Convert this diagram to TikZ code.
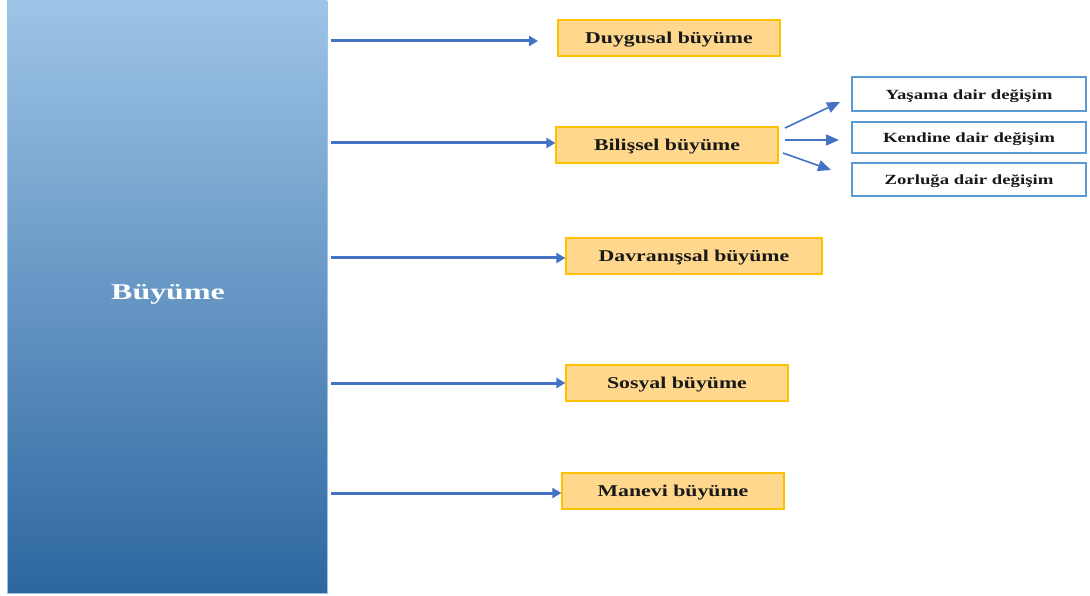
\documentclass[tikz,border=0pt]{standalone}
\usepackage{fontspec}
\setmainfont{Liberation Serif}
\usetikzlibrary{arrows.meta}
\definecolor{topblue}{RGB}{158,196,231}
\definecolor{botblue}{RGB}{45,103,160}
\definecolor{arrowblue}{RGB}{68,114,196}
\definecolor{boxfill}{RGB}{255,216,142}
\definecolor{boxline}{RGB}{255,192,0}
\definecolor{subline}{RGB}{91,155,213}
% labels are set in a horizontally widened face, drawn a little low
\newcommand{\widetext}[2]{\raisebox{-2pt}[\height][\depth]{\scalebox{#1}[1]{#2}}}
\tikzset{
  growth/.style={draw=boxline, line width=1.2pt, fill=boxfill, inner sep=0pt,
    font=\bfseries\fontsize{16.5}{19}\selectfont, text=black!90},
  change/.style={draw=subline, line width=1.2pt, fill=white, inner sep=0pt,
    minimum width=234pt, font=\bfseries\fontsize{14}{16}\selectfont, text=black!90},
  mainarrow/.style={draw=arrowblue, line width=3pt, -{Triangle[length=9pt,width=10pt]}},
  subarrow/.style={draw=arrowblue, line width=1.6pt, -{Triangle[length=13pt,width=11pt]}}
}
\begin{document}
\begin{tikzpicture}[x=1pt,y=-1pt]
\useasboundingbox (0,0) rectangle (1090,596);
% main column
\shade[top color=topblue, bottom color=botblue, draw=subline!60, line width=0.8pt]
  (7,1) rectangle (327,593);
\node[text=white, font=\bfseries\fontsize{22.5}{26}\selectfont] (main) at (168,292)
  {\widetext{1.42}{Büyüme}};
% growth boxes
\node[growth, minimum width=222pt, minimum height=36pt] (duy) at (669,38) {\widetext{1.32}{Duygusal büyüme}};
\node[growth, minimum width=222pt, minimum height=36pt] (bil) at (667,145) {\widetext{1.32}{Bilişsel büyüme}};
\node[growth, minimum width=256pt, minimum height=36pt] (dav) at (694,256) {\widetext{1.32}{Davranışsal büyüme}};
\node[growth, minimum width=222pt, minimum height=36pt] (sos) at (677,383) {\widetext{1.32}{Sosyal büyüme}};
\node[growth, minimum width=222pt, minimum height=36pt] (man) at (673,491) {\widetext{1.32}{Manevi büyüme}};
% arrow tails on the column edge
\coordinate (t1) at (331,41);
\coordinate (t2) at (331,143);
\coordinate (t3) at (331,258);
\coordinate (t4) at (331,383);
\coordinate (t5) at (331,493);
\draw[mainarrow] (t1) -- (538,41);
\draw[mainarrow] (t2) -- (bil.west |- t2);
\draw[mainarrow] (t3) -- (dav.west |- t3);
\draw[mainarrow] (t4) -- (sos.west |- t4);
\draw[mainarrow] (t5) -- (man.west |- t5);
% change boxes
\node[change, minimum height=34pt] (yas) at (969,94) {\widetext{1.34}{Yaşama dair değişim}};
\node[change, minimum height=31pt] (ken) at (969,137.5) {\widetext{1.34}{Kendine dair değişim}};
\node[change, minimum height=33pt] (zor) at (969,179.5) {\widetext{1.34}{Zorluğa dair değişim}};
\coordinate (s1) at (785,128);
\coordinate (s2) at (785,140);
\coordinate (s3) at (783,153);
\draw[subarrow] (s1) -- (840,102);
\draw[subarrow] (s2) -- (839,140);
\draw[subarrow] (s3) -- (831,170);
\end{tikzpicture}
\end{document}
